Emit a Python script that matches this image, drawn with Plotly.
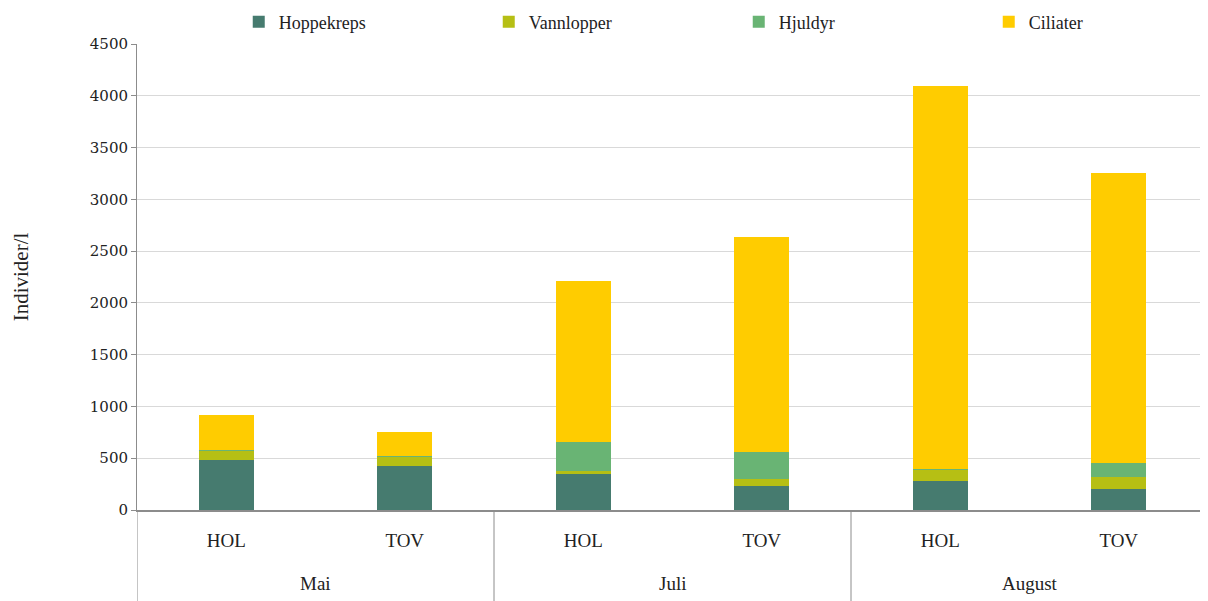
import plotly.graph_objects as go

months = ["Mai", "Mai", "Juli", "Juli", "August", "August"]
sites = ["HOL", "TOV", "HOL", "TOV", "HOL", "TOV"]
series_names = ["Hoppekreps", "Vannlopper", "Hjuldyr", "Ciliater"]
hoppekreps = [480, 425, 345, 232, 280, 203]
vannlopper = [95, 95, 30, 67, 115, 115]
hjuldyr = [5, 5, 280, 261, 5, 136]
ciliater = [340, 230, 1555, 2074, 3690, 2800]
y_ticks = [0, 500, 1000, 1500, 2000, 2500, 3000, 3500, 4000, 4500]

colors = ["#467B6F", "#B6BF14", "#69B474", "#FFCC00"]
values = [hoppekreps, vannlopper, hjuldyr, ciliater]

FONT = "Liberation Serif"

cats = [f"{m} {s}" for m, s in zip(months, sites)]

fig = go.Figure()
for name, vals, c in zip(series_names, values, colors):
    fig.add_trace(go.Bar(x=cats, y=vals, name=name, marker_color=c,
                         marker_line_width=0, width=0.31))

# month group labels and dividers, derived from the category list
groups = []
for i, m in enumerate(months):
    if not groups or groups[-1][0] != m:
        groups.append([m, i, i])
    else:
        groups[-1][2] = i

for m, i0, i1 in groups:
    fig.add_annotation(x=(i0 + i1) / 2, xref="x", y=-0.157, yref="paper",
                       text=m, showarrow=False, yanchor="middle",
                       font=dict(family=FONT, size=19, color="#222222"))
    fig.add_shape(type="line", xref="x", yref="paper", x0=i0 - 0.5, x1=i0 - 0.5,
                  y0=0, y1=-0.2, line=dict(color="#8c8c8c", width=1))

fig.update_layout(
    barmode="stack",
    width=1200, height=593,
    paper_bgcolor="white", plot_bgcolor="white",
    margin=dict(l=129, r=0, t=36, b=91, autoexpand=False),
    font=dict(family=FONT, size=17, color="#222222"),
    legend=dict(orientation="h", x=0.095, xanchor="left", y=1.047, yanchor="middle",
                entrywidth=205, entrywidthmode="pixels", itemwidth=30,
                traceorder="normal",
                font=dict(family=FONT, size=18), tracegroupgap=0,
                itemclick=False),
    showlegend=True,
)
fig.update_xaxes(
    type="category", categoryorder="array", categoryarray=cats,
    tickvals=cats, ticktext=sites,
    range=[-0.5, len(cats) - 0.5],
    showline=True, linecolor="#8c8c8c", linewidth=1.5,
    tickfont=dict(family=FONT, size=19, color="#222222"),
    ticks="", showgrid=False, ticklabelstandoff=12,
)
fig.update_yaxes(
    range=[0, 4500], tickvals=y_ticks,
    showgrid=True, gridcolor="#d9d9d9", gridwidth=1,
    showline=True, linecolor="#8c8c8c", linewidth=1,
    ticks="outside", ticklen=5, tickcolor="#8c8c8c",
    tickfont=dict(family="DejaVu Serif", size=15, color="#222222"),
    title=dict(text="Individer/l", font=dict(family=FONT, size=21), standoff=55),
    zeroline=False,
)
fig.write_html("out.html")
